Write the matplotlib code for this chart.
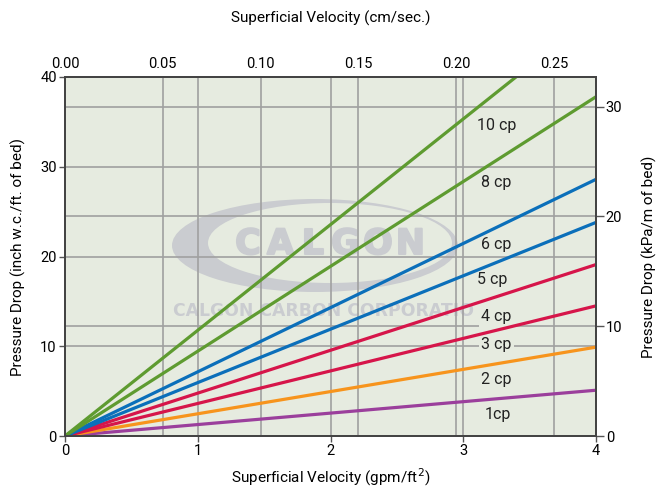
import matplotlib
matplotlib.use('Agg')
import matplotlib.pyplot as plt
from matplotlib import font_manager
from matplotlib import patheffects
from matplotlib.patches import Ellipse

# Données : perte de charge à 4 gpm/ft2 pour chaque viscosité
viscosites = ['1cp', '2 cp', '3 cp', '4 cp', '5 cp', '6 cp', '8 cp', '10 cp']
perte_a_4 = [5.1, 9.9, 14.5, 19.1, 23.8, 28.6, 37.8, 47.1]
couleurs = ['#9b3f9c', '#f7941d', '#d6154a', '#d6154a', '#0b6fba', '#0b6fba', '#5e9b30', '#5e9b30']
# position des étiquettes (x en gpm/ft2, y en inch w.c./ft)
etiq_x = [3.26, 3.25, 3.25, 3.25, 3.22, 3.25, 3.25, 3.25]
etiq_y = [2.4, 6.3, 10.2, 13.3, 17.4, 21.3, 28.2, 34.6]

vitesse = [0.0, 4.0]
gpm_vers_cms = 0.0679        # 1 gpm/ft2 = 0.0679 cm/s
inch_vers_kpa = 0.8176       # 1 inch w.c./ft = 0.8176 kPa/m

fond = '#e6ebe0'
gris = '#a0a0a0'
filigrane = '#caccd0'

noms = {f.name for f in font_manager.fontManager.ttflist}
police = 'Liberation Sans Narrow' if 'Liberation Sans Narrow' in noms else 'Roboto'
plt.rcParams['font.family'] = [police, 'DejaVu Sans']

fig = plt.figure(figsize=(6.58, 4.9), dpi=100)
ax = fig.add_subplot(111)
fig.subplots_adjust(left=65/658, right=596/658, bottom=1-436/490, top=1-77/490)
ax.set_facecolor(fond)

ax.set_xlim(0, 4)
ax.set_ylim(0, 40)


# conversion pixels de l'image -> fraction des axes (pour le filigrane)
def px(x, y):
    return ((x - 65) / 531, (436 - y) / 359)


# filigrane Calgon : anneau + lettres espacées
ax.add_patch(Ellipse(px(315, 245.5), 286 / 531, 93 / 359, transform=ax.transAxes,
                     facecolor=filigrane, edgecolor='none', zorder=0.1))
ax.add_patch(Ellipse(px(330, 243), 244 / 531, 80 / 359, transform=ax.transAxes,
                     facecolor=fond, edgecolor='none', zorder=0.15))
epais = [patheffects.withStroke(linewidth=1.5, foreground=filigrane)]
for i, lettre in enumerate('CALGON'):
    ax.text(*px(248 + 32.5 * i, 244), lettre, transform=ax.transAxes, ha='center',
            va='center', fontsize=25, fontweight='bold', color=filigrane,
            family='DejaVu Sans', zorder=0.2, path_effects=epais)
ax.text(*px(173, 311), 'CALGON CARBON CORPORATIO', transform=ax.transAxes, ha='left',
        va='center', fontsize=12.4, fontweight='bold', color=filigrane,
        family='DejaVu Sans', zorder=0.2)

# grille : ticks du bas et du haut, de gauche et de droite
for v in [1, 2, 3]:
    ax.axvline(v, color=gris, lw=1.2, zorder=0.5)
for v in [0.05, 0.10, 0.15, 0.20, 0.25]:
    ax.axvline(v / gpm_vers_cms, color=gris, lw=1.2, zorder=0.5)
for v in [10, 20, 30]:
    ax.axhline(v, color=gris, lw=1.2, zorder=0.5)
    ax.axhline(v / inch_vers_kpa, color=gris, lw=1.2, zorder=0.5)

for nom, p, c, tx, ty in zip(viscosites, perte_a_4, couleurs, etiq_x, etiq_y):
    ax.plot(vitesse, [0, p], color=c, lw=2.3, solid_capstyle='butt', zorder=3)
    ax.text(tx, ty, nom, fontsize=11.5, ha='center', va='center', color='#222222',
            zorder=2, bbox=dict(boxstyle='square,pad=0.15', fc=fond, ec='none'))

ax.set_xticks([0, 1, 2, 3, 4])
ax.set_yticks([0, 10, 20, 30, 40])
ax.set_xlabel('Superficial Velocity (gpm/ft$^2$)', fontsize=11, labelpad=6)
ax.set_ylabel('Pressure Drop (inch w.c./ft. of bed)', fontsize=11, labelpad=10)

ax_haut = ax.twiny()
ax_haut.set_xlim(0, 4 * gpm_vers_cms)
ax_haut.set_xticks([0, 0.05, 0.10, 0.15, 0.20, 0.25])
ax_haut.set_xticklabels(['0.00', '0.05', '0.10', '0.15', '0.20', '0.25'])
ax_haut.set_xlabel('Superficial Velocity (cm/sec.)', fontsize=11, labelpad=25)
ax_haut.tick_params(axis='x', direction='in', length=0, labelsize=10.5, pad=4)

ax_droite = ax.twinx()
ax_droite.set_ylim(0, 40 * inch_vers_kpa)
ax_droite.set_yticks([0, 10, 20, 30])
ax_droite.set_ylabel('Pressure Drop (kPa/m of bed)', fontsize=11, labelpad=14)
ax_droite.tick_params(axis='y', length=6, width=1, color='#555555', labelsize=10.5, pad=1)

ax.tick_params(length=4, width=1, color='#555555', labelsize=10.5, pad=2)
for a in (ax, ax_haut, ax_droite):
    for s in a.spines.values():
        s.set_color('#444444')
        s.set_linewidth(1.2)

fig.savefig('out.png', dpi=100, facecolor='white')
